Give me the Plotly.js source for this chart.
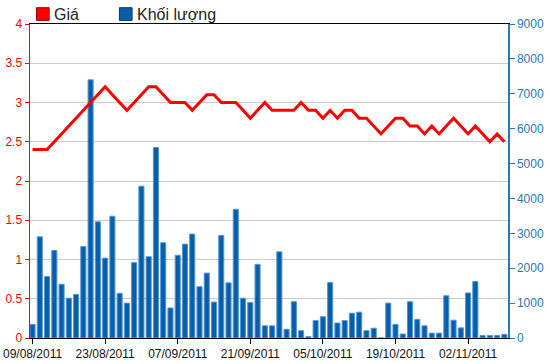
<!DOCTYPE html>
<html><head><meta charset="utf-8">
<script src="https://cdn.plot.ly/plotly-3.0.1.min.js"></script>
<style>html,body{margin:0;padding:0;background:#fff}#chart{width:550px;height:364px}</style>
</head><body><div id="chart"></div>
<script>
const dates = ['09/08/2011','10/08/2011','11/08/2011','12/08/2011','15/08/2011','16/08/2011','17/08/2011','18/08/2011','19/08/2011','22/08/2011',
'23/08/2011','24/08/2011','25/08/2011','26/08/2011','29/08/2011','30/08/2011','31/08/2011','01/09/2011','05/09/2011','06/09/2011',
'07/09/2011','08/09/2011','09/09/2011','12/09/2011','13/09/2011','14/09/2011','15/09/2011','16/09/2011','19/09/2011','20/09/2011',
'21/09/2011','22/09/2011','23/09/2011','26/09/2011','27/09/2011','28/09/2011','29/09/2011','30/09/2011','03/10/2011','04/10/2011',
'05/10/2011','06/10/2011','07/10/2011','10/10/2011','11/10/2011','12/10/2011','13/10/2011','14/10/2011','17/10/2011','18/10/2011',
'19/10/2011','20/10/2011','21/10/2011','24/10/2011','25/10/2011','26/10/2011','27/10/2011','28/10/2011','31/10/2011','01/11/2011',
'02/11/2011','03/11/2011','04/11/2011','07/11/2011','08/11/2011','09/11/2011'];
const price = [2.4,2.4,2.4,2.5,2.6,2.7,2.8,2.9,3.0,3.1,
3.2,3.1,3.0,2.9,3.0,3.1,3.2,3.2,3.1,3.0,
3.0,3.0,2.9,3.0,3.1,3.1,3.0,3.0,3.0,2.9,
2.8,2.9,3.0,2.9,2.9,2.9,2.9,3.0,2.9,2.9,
2.8,2.9,2.8,2.9,2.9,2.8,2.8,2.7,2.6,2.7,
2.8,2.8,2.7,2.7,2.6,2.7,2.6,2.7,2.8,2.7,
2.6,2.7,2.6,2.5,2.6,2.5];
const volume = [390,2900,1760,2510,1540,1140,1250,2620,7400,3330,
2290,3490,1280,1000,2160,4350,2330,5460,2730,860,
2370,2690,2980,1470,1860,1030,2940,1580,3690,1140,
1020,2110,350,350,2470,250,1040,210,40,500,
610,1590,430,500,710,740,210,280,0,1000,
390,115,1040,535,350,140,140,1210,510,290,
1290,1620,70,70,70,105];
const tickDates = ['09/08/2011','23/08/2011','07/09/2011','21/09/2011','05/10/2011','19/10/2011','02/11/2011'];
const seriesNames = ['Giá','Khối lượng'];
const priceColor = '#ff0000';
const volColor = '#0a5ea8';
const axisBlue = '#2a78b4';

const L = 29.5, R = 508, T = 24.3, B = 338.3, W = 550, H = 364;
const px = x => (x - L) / (R - L);
const py = y => (B - y) / (B - T);

const traces = [
  {type:'bar', x:dates, y:volume, yaxis:'y', name:seriesNames[1],
   marker:{color:volColor, line:{color:'#4f97d8', width:1}}, hoverinfo:'x+y'},
  {type:'scatter', mode:'lines', x:dates, y:price, yaxis:'y2', name:seriesNames[0],
   line:{color:priceColor, width:3}}
];

const layout = {
  width:W, height:H,
  margin:{l:L, r:W-R, t:T, b:H-B, pad:0},
  paper_bgcolor:'#fff', plot_bgcolor:'#fff',
  showlegend:false, bargap:0.3,
  font:{family:'Arial, Liberation Sans, sans-serif', size:12, color:'#111'},
  xaxis:{type:'category', range:[-0.35, 65.5], tickmode:'array', tickvals:tickDates, ticktext:tickDates,
    showgrid:false, showline:true, linecolor:'#000', linewidth:1, mirror:true,
    ticks:'outside', ticklen:5, tickcolor:'#000', tickfont:{size:12, color:'#111'}},
  yaxis:{range:[0,9000], dtick:1000, side:'right', showgrid:false, zeroline:false,
    showline:true, linecolor:axisBlue, linewidth:1.5, ticks:'outside', ticklen:5, tickcolor:axisBlue,
    tickfont:{size:12, color:axisBlue}},
  yaxis2:{range:[0,4], dtick:0.5, side:'left', overlaying:'y', showgrid:true, gridcolor:'#cccccc', gridwidth:1,
    zeroline:false, showline:true, linecolor:priceColor, linewidth:1.5, ticks:'outside', ticklen:4, tickcolor:priceColor,
    tickfont:{size:12, color:priceColor}},
  shapes:[
    {type:'rect', xref:'paper', yref:'paper', x0:px(36), x1:px(48.7), y0:py(20.7), y1:py(8), fillcolor:priceColor, line:{color:'#a00000', width:1}},
    {type:'rect', xref:'paper', yref:'paper', x0:px(119), x1:px(131.7), y0:py(20.7), y1:py(8), fillcolor:volColor, line:{color:'#003a70', width:1}}
  ],
  annotations:[
    {xref:'paper', yref:'paper', x:px(52), y:py(14.5), xanchor:'left', yanchor:'middle', showarrow:false,
     text:seriesNames[0], font:{size:16, color:'#222'}},
    {xref:'paper', yref:'paper', x:px(135), y:py(14.5), xanchor:'left', yanchor:'middle', showarrow:false,
     text:seriesNames[1], font:{size:16, color:'#222'}}
  ]
};
Plotly.newPlot('chart', traces, layout, {displayModeBar:false, staticPlot:true});
</script></body></html>
